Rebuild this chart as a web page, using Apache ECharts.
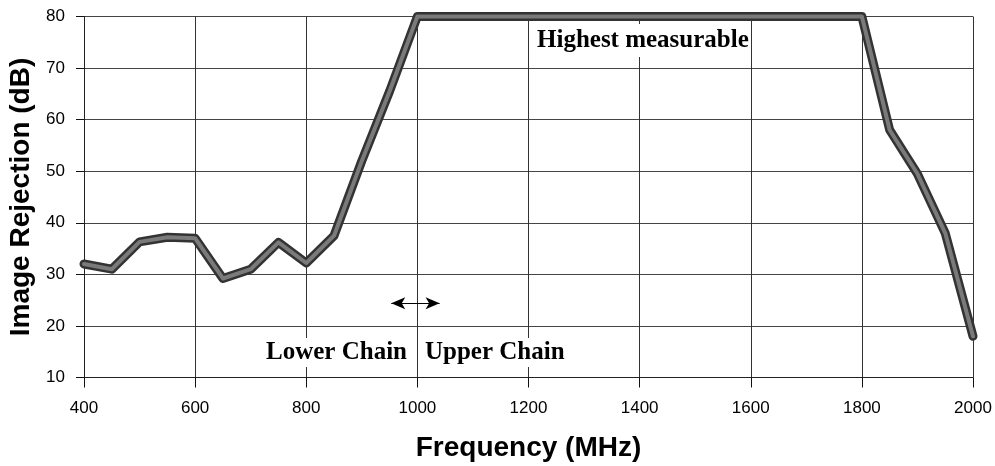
<!DOCTYPE html>
<html>
<head>
<meta charset="utf-8">
<script src="https://cdn.jsdelivr.net/npm/echarts@6/dist/echarts.min.js"></script>
<style>
  html, body { margin: 0; padding: 0; background: #fff; }
  #chart { width: 995px; height: 466px; }
</style>
</head>
<body>
<div id="chart"></div>
<script>
// frequency points (MHz)
const freq = [400, 450, 500, 550, 600, 650, 700, 750, 800, 850, 900, 950, 1000,
  1050, 1100, 1150, 1200, 1250, 1300, 1350, 1400, 1450, 1500, 1550, 1600,
  1650, 1700, 1750, 1800, 1850, 1900, 1950, 2000];
// image rejection (dB)
const rejection = [32, 31, 36.3, 37.2, 37, 29.2, 31, 36.2, 32.2, 37.5, 52, 65.5, 80,
  80, 80, 80, 80, 80, 80, 80, 80, 80, 80, 80, 80,
  80, 80, 80, 80, 58, 49.5, 38, 18];
const xTicks = [400, 600, 800, 1000, 1200, 1400, 1600, 1800, 2000];
const yTicks = [10, 20, 30, 40, 50, 60, 70, 80];

const points = freq.map((f, i) => [f, rejection[i]]);

const chart = echarts.init(document.getElementById('chart'));

const serif = '"Liberation Serif", "Times New Roman", serif';
const sans = '"Liberation Sans", Arial, sans-serif';

chart.setOption({
  animation: false,
  backgroundColor: '#fff',
  grid: { left: 84, right: 22, top: 16.5, bottom: 88.5, outerBoundsMode: 'none', containLabel: false },
  xAxis: {
    type: 'value',
    min: xTicks[0],
    max: xTicks[xTicks.length - 1],
    interval: 200,
    name: 'Frequency (MHz)',
    nameLocation: 'middle',
    nameGap: 57,
    nameTextStyle: { fontFamily: sans, fontWeight: 'bold', fontSize: 28, color: '#000' },
    axisLine: { show: true, lineStyle: { color: '#222', width: 1 } },
    axisTick: { show: true, length: 10, inside: false, lineStyle: { color: '#111', width: 1 } },
    axisLabel: { margin: 22, fontFamily: sans, fontSize: 17, color: '#000', formatter: v => String(v) },
    splitLine: { show: true, lineStyle: { color: '#333', width: 1 } }
  },
  yAxis: {
    type: 'value',
    min: yTicks[0],
    max: yTicks[yTicks.length - 1],
    interval: 10,
    name: 'Image Rejection (dB)',
    nameLocation: 'middle',
    nameGap: 49,
    nameTextStyle: { fontFamily: sans, fontWeight: 'bold', fontSize: 28, color: '#000' },
    axisLine: { show: true, lineStyle: { color: '#222', width: 1 } },
    axisTick: { show: true, length: 8, inside: false, lineStyle: { color: '#111', width: 1 } },
    axisLabel: { margin: 19, fontFamily: sans, fontSize: 17, color: '#000', formatter: v => String(v) },
    splitLine: { show: true, lineStyle: { color: '#444', width: 1 } }
  },
  series: [
    {
      // dark outline of the thick trace
      type: 'line',
      data: points,
      clip: false,
      symbol: 'none',
      z: 5,
      lineStyle: { color: '#333', width: 9, join: 'round', cap: 'round' },
      markLine: {
        silent: true,
        symbol: ['arrow', 'arrow'],
        symbolSize: [9, 14],
        label: { show: false },
        lineStyle: { color: '#000', width: 1, type: 'solid' },
        data: [[{ coord: [953, 24.4] }, { coord: [1040, 24.4] }]]
      }
    },
    {
      // lighter core of the trace
      type: 'line',
      data: points,
      clip: false,
      symbol: 'none',
      z: 6,
      lineStyle: { color: '#7a7a7a', width: 4, join: 'round', cap: 'round' }
    }
  ],
  graphic: [
    {
      type: 'text', left: 535, top: 24, z: 4,
      style: {
        text: 'Highest measurable', fontFamily: serif, fontWeight: 'bold', fontSize: 25,
        fill: '#000', backgroundColor: '#fff', padding: [4, 2, 4, 2]
      }
    },
    {
      type: 'text', right: 995 - 409, top: 338, z: 4,
      style: {
        text: 'Lower Chain', fontFamily: serif, fontWeight: 'bold', fontSize: 25,
        fill: '#000', backgroundColor: '#fff', padding: [2, 2, 2, 2]
      }
    },
    {
      type: 'text', left: 423, top: 338, z: 4,
      style: {
        text: 'Upper Chain', fontFamily: serif, fontWeight: 'bold', fontSize: 25,
        fill: '#000', backgroundColor: '#fff', padding: [2, 2, 2, 2]
      }
    }
  ]
});
</script>
</body>
</html>
